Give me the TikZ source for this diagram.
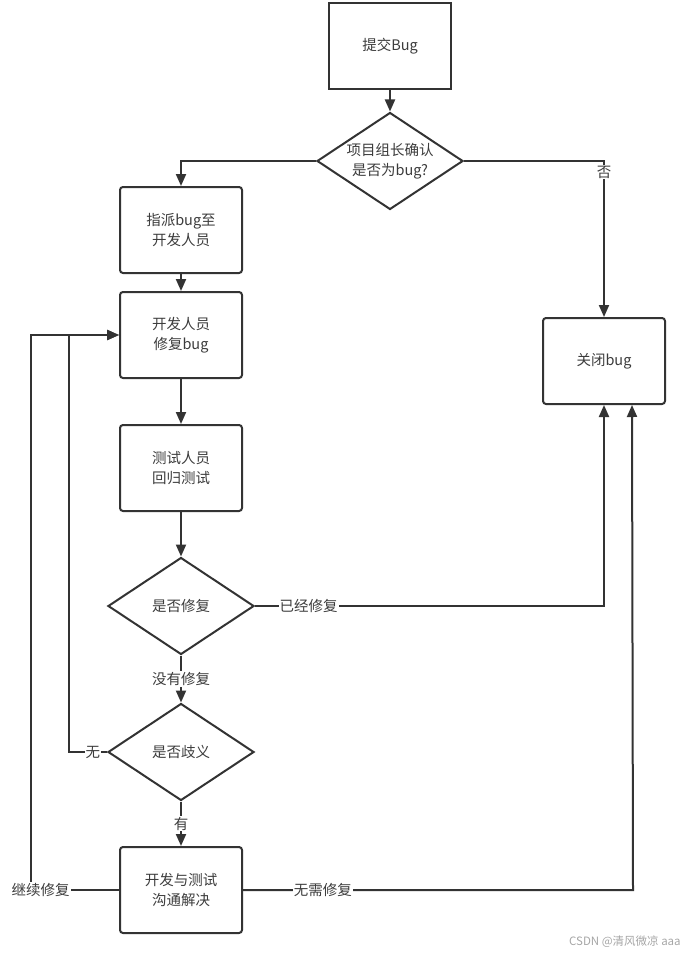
\documentclass[tikz,border=0pt]{standalone}
\usepackage{fontspec}
\setmainfont{Noto Sans CJK SC}
\usetikzlibrary{shapes.geometric,arrows.meta}
\definecolor{ink}{HTML}{333333}
\definecolor{txt}{HTML}{3C3C3C}

\begin{document}
\begin{tikzpicture}[x=1pt, y=-1pt, line width=2pt, color=ink,
  >={Triangle[length=12pt,width=10pt]},
  every node/.append style={font=\fontsize{14.5}{20}\selectfont, text=txt},
  box/.style={draw=ink, rounded corners=3pt, minimum width=122pt, minimum height=86pt, align=center},
  choice/.style={draw=ink, diamond, aspect=1.5, minimum width=146pt, minimum height=97pt, inner sep=0pt, align=center},
  lbl/.style={fill=white, inner sep=1pt}]
	\useasboundingbox (0,0) rectangle (690,955);

	\node[box, rounded corners=0pt] (submit) at (390,46) {提交Bug};
	\node[choice, inner sep=-3pt] (confirm) at (390,161) {项目组长确认\\是否为bug?};
	\node[box] (assign) at (181,230) {指派bug至\\开发人员};
	\node[box] (fix) at (181,335) {开发人员\\修复bug};
	\node[box] (retest) at (181,468) {测试人员\\回归测试};
	\node[choice] (fixed) at (181,606) {是否修复};
	\node[choice] (dispute) at (181,752) {是否歧义};
	\node[box] (talk) at (181,890) {开发与测试\\沟通解决};
	\node[box] (close) at (604,361) {关闭bug};
	\node[anchor=east, text=black!35, font=\fontsize{11.5}{13}\selectfont] (mark) at (685,942) {CSDN @清风微凉 aaa};

	\draw[->] (submit) -- (confirm);
	\draw[->] (confirm.west) -| (assign.north);
	\draw[->] (confirm.east) -| node[lbl, pos=0.535] (no) {否} (close.north);
	\draw[->] (assign) -- (fix);
	\draw[->] (fix) -- (retest);
	\draw[->] (retest) -- (fixed);
	\draw[->] (fixed.east) -| node[lbl, pos=0.077] (done) {已经修复} (close.south);
	\draw[->] (fixed) -- node[lbl] (notdone) {没有修复} (dispute);
	\draw[->] (dispute.west) -- node[lbl, pos=0.37] (none) {无} ++(-38,0) |- (fix.west);
	\draw[->] (dispute) -- node[lbl] (some) {有} (talk);
	\draw[->] (talk.west) -- node[lbl, pos=0.89] (again) {继续修复} ++(-88,0) |- (fix.west);
	\draw[->] (talk.east) -- node[lbl, pos=0.205] (skip) {无需修复} ++(390,0) -- ([xshift=28pt]close.south);
\end{tikzpicture}
\end{document}
